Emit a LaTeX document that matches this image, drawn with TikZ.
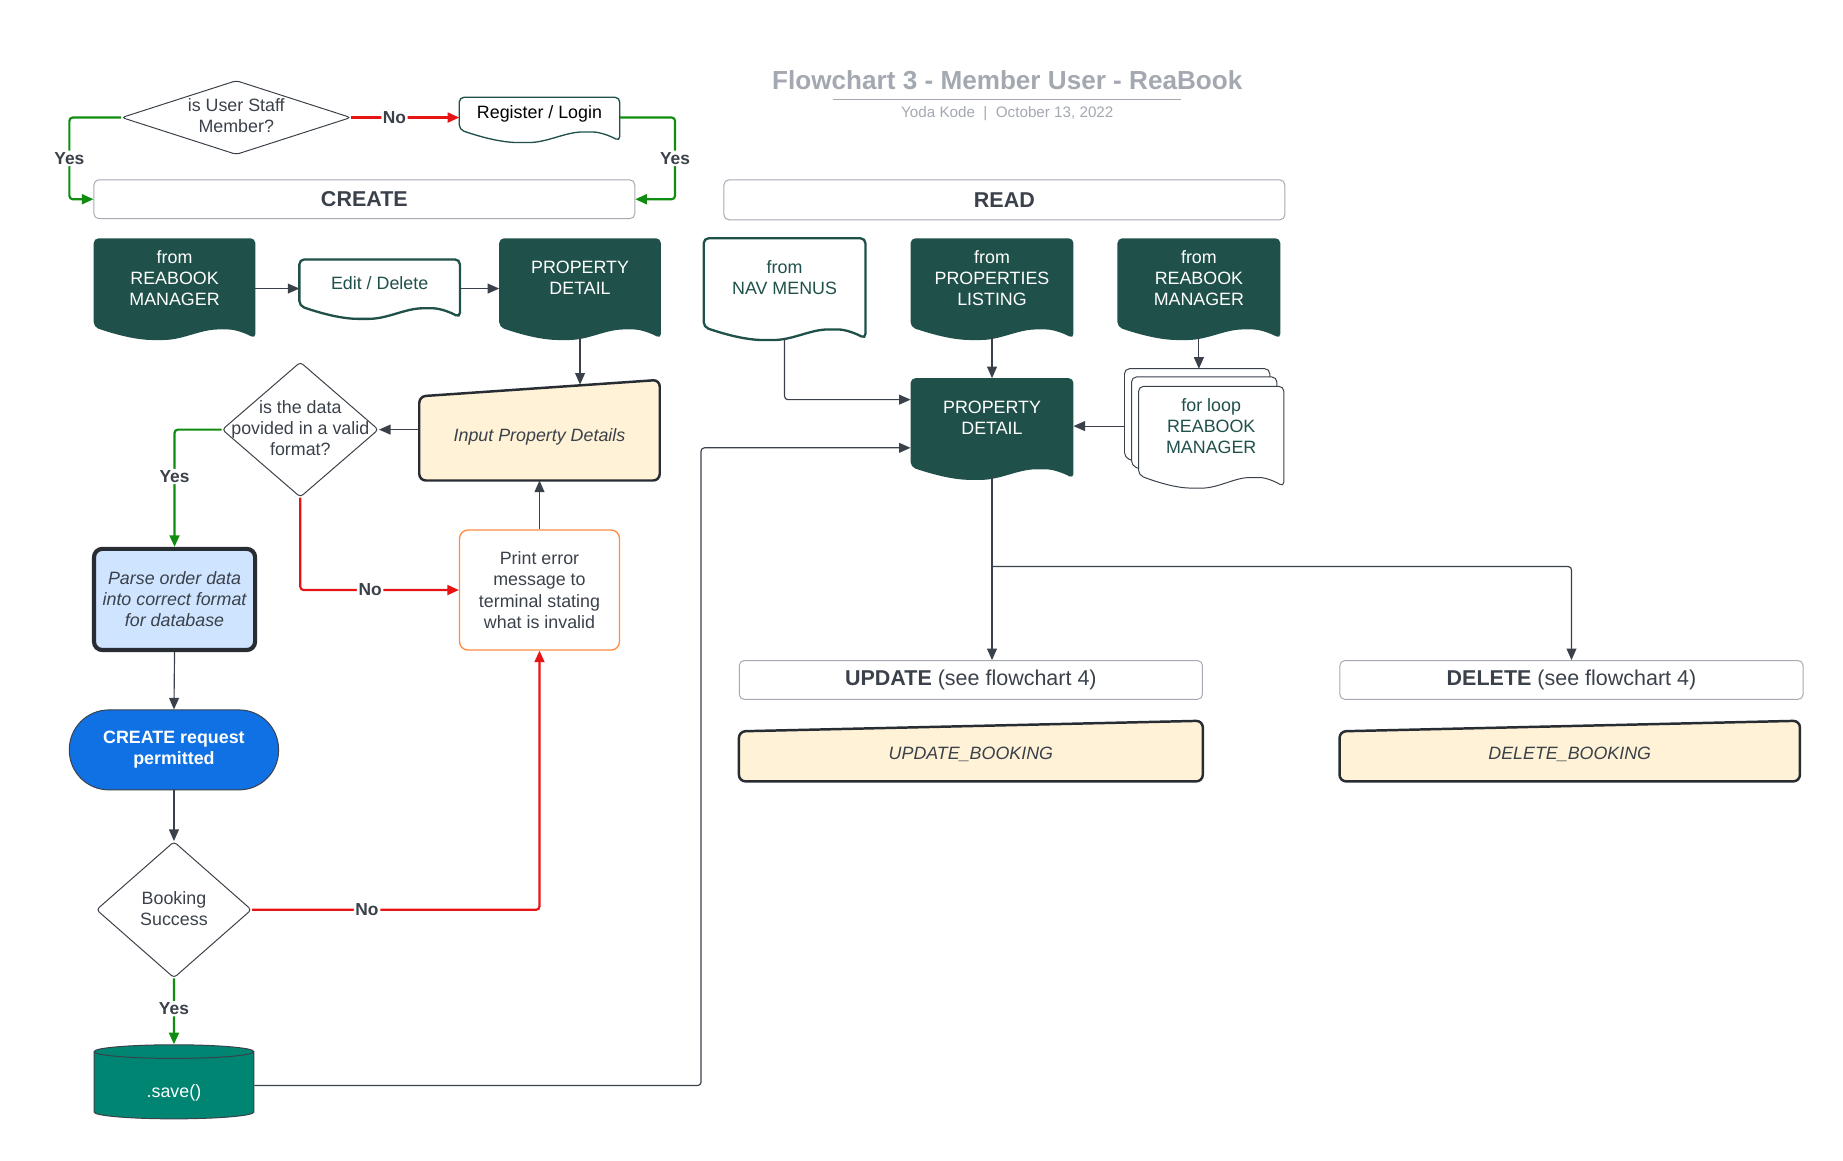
\documentclass[tikz,border=0pt]{standalone}
\usepackage{fontspec}
\setmainfont{Liberation Sans}
\usetikzlibrary{shapes.geometric,arrows.meta,calc,backgrounds}

\definecolor{docgreen}{RGB}{31,80,74}
\definecolor{txtgray}{RGB}{58,65,74}
\definecolor{boxgray}{RGB}{165,170,178}
\definecolor{titlegray}{RGB}{163,168,177}
\definecolor{yesgreen}{RGB}{16,140,16}
\definecolor{nored}{RGB}{230,20,20}
\definecolor{cream}{RGB}{255,242,214}
\definecolor{parseblue}{RGB}{207,228,255}
\definecolor{permitblue}{RGB}{16,113,229}
\definecolor{saveteal}{RGB}{0,133,115}
\definecolor{errorange}{RGB}{255,140,66}
\definecolor{edgedark}{RGB}{40,44,51}

\newcommand{\basesize}{\fontsize{10.8}{12.8}\selectfont}
\newcommand{\ztext}[1]{\smash{\raisebox{-0.11cm}{\makebox[0pt]{\begin{tabular}{@{}c@{}}#1\end{tabular}}}}}
\newcommand{\lowtext}[2]{\smash{\raisebox{-#1}{#2}}}
% wavy bottom edge of a document shape, hung #2 units under node #1
\newcommand{\wavebottom}[2]{($(#1.south west)+(0,#2)$)
  .. controls ($(#1.south west)!0.15!(#1.south east)+(0,#2+7)$) and ($(#1.south west)!0.27!(#1.south east)+(0,#2+11)$) .. ($(#1.south west)!0.4!(#1.south east)+(0,#2+11)$)
  .. controls ($(#1.south west)!0.55!(#1.south east)+(0,#2+11)$) and ($(#1.south west)!0.66!(#1.south east)+(0,#2+2)$) .. ($(#1.south west)!0.8!(#1.south east)+(0,#2+2)$)
  .. controls ($(#1.south west)!0.88!(#1.south east)+(0,#2+2)$) and ($(#1.south west)!0.95!(#1.south east)+(0,#2+6)$) .. ($(#1.south east)+(0,#2+10)$)}

\begin{document}
\begin{tikzpicture}[x=0.025cm,y=-0.025cm,font=\basesize,text=txtgray,
	every node/.style={align=center,inner sep=0pt},
	section/.style={draw=boxgray,rounded corners=3pt,line width=0.6pt,minimum height=0.825cm,font=\fontsize{13}{15}\selectfont},
	docbox/.style={minimum width=3.425cm,minimum height=1.675cm},
	darkdoc/.style={fill=docgreen,rounded corners=3pt},
	lightdoc/.style={draw=docgreen,fill=white,line width=1.4pt,rounded corners=3pt},
	inputbox/.style={draw=edgedark,fill=cream,line width=1.5pt,rounded corners=4pt},
	decision/.style={diamond,draw=txtgray,line width=0.6pt,rounded corners=2pt,align=none},
	arr/.style={draw=txtgray,line width=0.7pt,rounded corners=2pt,-{Triangle[length=7pt,width=6pt]}},
	yesarr/.style={arr,draw=yesgreen,line width=1.3pt},
	noarr/.style={arr,draw=nored,line width=1.3pt},
	yn/.style={fill=white,inner sep=1pt,font=\fontsize{10.5}{12}\selectfont\bfseries}]
	\useasboundingbox (0,0) rectangle (1568,987);

	\node[text=titlegray,font=\fontsize{15.8}{18}\selectfont\bfseries] (title) at (857,68) {Flowchart 3 - Member User - ReaBook};
	\draw[titlegray,line width=0.6pt] ($(title.south)+(-148,8)$) -- ($(title.south)+(148,8)$);
	\node[text=titlegray,font=\fontsize{9.2}{11}\selectfont] (subtitle) at (857,97) {Yoda Kode~~|~~October 13, 2022};

	\node[decision,minimum width=4.875cm,minimum height=1.575cm] (staff) at (201,100) {\ztext{is User Staff\\Member?}};
	\node[minimum width=3.4cm,minimum height=0.675cm,text=black] (reg) at (459,96.5) {Register / Login};
	\node[section,minimum width=11.5cm] (create) at (310,169.5) {\textbf{CREATE}};
	\node[section,minimum width=11.925cm,minimum height=0.85cm] (read) at (854.5,170) {\textbf{READ}};

	% create side
	\node[docbox,text=white] (mgra) at (148.5,236.5) {from\\REABOOK\\MANAGER};
	\node[minimum width=3.4cm,minimum height=0.975cm,text=docgreen] (edit) at (323,240.5) {Edit / Delete};
	\node[docbox,text=white] (pdc) at (493.5,236.5) {PROPERTY\\DETAIL};
	\node[minimum width=5.1cm,minimum height=2.125cm,font=\basesize\itshape] (input) at (459,366) {\lowtext{0.24cm}{Input Property Details}};
	\node[decision,minimum width=3.325cm,minimum height=2.875cm] (valid) at (255.5,365.5) {\ztext{is the data\\povided in a valid\\format?}};
	\node[draw=errorange,line width=0.8pt,rounded corners=5pt,minimum width=3.4cm,minimum height=2.55cm] (err) at (459,502) {Print error\\message to\\terminal stating\\what is invalid};
	\node[draw=edgedark,fill=parseblue,line width=2.5pt,rounded corners=5pt,minimum width=3.425cm,minimum height=2.15cm,font=\basesize\itshape] (parse) at (148.5,510) {Parse order data\\into correct format\\for database};
	\node[draw=txtgray,fill=permitblue,line width=0.6pt,rounded corners=0.84cm,minimum width=4.45cm,minimum height=1.7cm,text=white,font=\basesize\bfseries] (permit) at (148,638) {CREATE request\\permitted};
	\node[decision,minimum width=3.3cm,minimum height=2.9cm] (bsucc) at (148,774) {\ztext{Booking\\Success}};
	\node[cylinder,shape border rotate=90,aspect=0.25,draw=txtgray,fill=saveteal,line width=0.6pt,minimum width=3.4cm,minimum height=1.575cm,text=white] (save) at (148,923.5) {\lowtext{0.25cm}{.save()}};

	% read side
	\node[docbox,text=docgreen] (nav) at (667.5,236.5) {from\\NAV MENUS};
	\node[docbox,minimum width=3.45cm,text=white] (plist) at (844,236.5) {from\\PROPERTIES\\LISTING};
	\node[docbox,minimum width=3.45cm,text=white] (mgrb) at (1020,236.5) {from\\REABOOK\\MANAGER};
	\node[docbox,minimum width=3.45cm,text=white] (pdr) at (844,355.5) {PROPERTY\\DETAIL};
	\node[docbox,minimum width=3.075cm] (loopa) at (1018.5,347.5) {};
	\node[docbox,minimum width=3.075cm] (loopb) at (1024.5,354.5) {};
	\node[docbox,minimum width=3.075cm,text=docgreen] (loopc) at (1030.5,362.5) {for loop\\REABOOK\\MANAGER};
	\node[section,minimum width=9.85cm] (upd) at (826,578.5) {\textbf{UPDATE} (see flowchart 4)};
	\node[section,minimum width=9.85cm] (del) at (1337,578.5) {\textbf{DELETE} (see flowchart 4)};
	\node[minimum width=9.85cm,minimum height=1.275cm,font=\basesize\itshape] (updb) at (826,639) {\lowtext{0.18cm}{UPDATE\_BOOKING}};
	\node[minimum width=9.775cm,minimum height=1.275cm,font=\basesize\itshape] (delb) at (1335.5,639) {\lowtext{0.18cm}{DELETE\_BOOKING}};
	\coordinate (split) at (844,482);

	\begin{scope}[on background layer]
		\path[lightdoc,line width=0.8pt] (reg.north west) -- \wavebottom{reg}{0} -- (reg.north east) -- cycle;
		\path[darkdoc] (mgra.north west) -- \wavebottom{mgra}{8} -- (mgra.north east) -- cycle;
		\path[lightdoc] (edit.north west) -- \wavebottom{edit}{0} -- (edit.north east) -- cycle;
		\path[darkdoc] (pdc.north west) -- \wavebottom{pdc}{8} -- (pdc.north east) -- cycle;
		\path[lightdoc] (nav.north west) -- \wavebottom{nav}{8} -- (nav.north east) -- cycle;
		\path[darkdoc] (plist.north west) -- \wavebottom{plist}{8} -- (plist.north east) -- cycle;
		\path[darkdoc] (mgrb.north west) -- \wavebottom{mgrb}{8} -- (mgrb.north east) -- cycle;
		\path[darkdoc] (pdr.north west) -- \wavebottom{pdr}{8} -- (pdr.north east) -- cycle;
		\foreach \d in {loopa,loopb,loopc}
			\path[draw=txtgray,fill=white,line width=0.6pt,rounded corners=3pt] (\d.north west) -- \wavebottom{\d}{8} -- (\d.north east) -- cycle;
		\path[inputbox] ($(input.north west)+(0,14)$) -- (input.north east) -- (input.south east) -- (input.south west) -- cycle;
		\path[inputbox] ($(updb.north west)+(0,9)$) -- (updb.north east) -- (updb.south east) -- (updb.south west) -- cycle;
		\path[inputbox] ($(delb.north west)+(0,9)$) -- (delb.north east) -- (delb.south east) -- (delb.south west) -- cycle;
	\end{scope}

	% top row
	\draw[noarr] (staff.east) -- (staff.east -| reg.west) node[yn,pos=0.4] {No};
	\draw[yesarr] (staff.west) -- ++(-44,0) |- (create.west) node[yn,pos=0.25] {Yes};
	\draw[yesarr] (reg.east |- staff.east) -- ++(47,0) |- (create.east) node[yn,pos=0.25] {Yes};

	% create flow
	\draw[arr] ($(mgra.east)+(0,9)$) -- ($(edit.west)+(0,5)$);
	\draw[arr] ($(edit.east)+(0,5)$) -- ($(pdc.west)+(0,9)$);
	\draw[arr] ($(pdc.south)+(0,16)$) -- ($(pdc.south |- input.north)+(0,4)$);
	\draw[arr] (input.west |- valid.east) -- (valid.east);
	\draw[yesarr] (valid.west) -| (parse.north) node[yn,pos=0.7] {Yes};
	\draw[noarr] (valid.south) |- (err.west) node[yn,pos=0.72] {No};
	\draw[arr] (err.north) -- (input.south);
	\draw[arr] (parse.south) -- (permit.north);
	\draw[arr] (permit.south) -- (bsucc.north);
	\draw[noarr] (bsucc.east) -| (err.south) node[yn,pos=0.2] {No};
	\draw[yesarr] (bsucc.south) -- (save.north) node[yn,pos=0.46] {Yes};
	\draw[arr] (save.east) -- ++(380,0) |- ($(pdr.west)+(0,25.5)$);

	% read flow
	\draw[arr] ($(nav.south)+(0,18)$) |- ($(pdr.west)+(0,-15.5)$);
	\draw[arr] ($(plist.south)+(0,16)$) -- (pdr.north);
	\draw[arr] ($(mgrb.south)+(0,16)$) -- (mgrb.south |- loopa.north);
	\draw[arr] (loopa.west |- loopc.west) -- (pdr.east |- loopc.west);
	\draw[arr] ($(pdr.south)+(0,16)$) -- (pdr.south |- upd.north);
	\draw[arr] (split) -| (del.north);
\end{tikzpicture}
\end{document}
